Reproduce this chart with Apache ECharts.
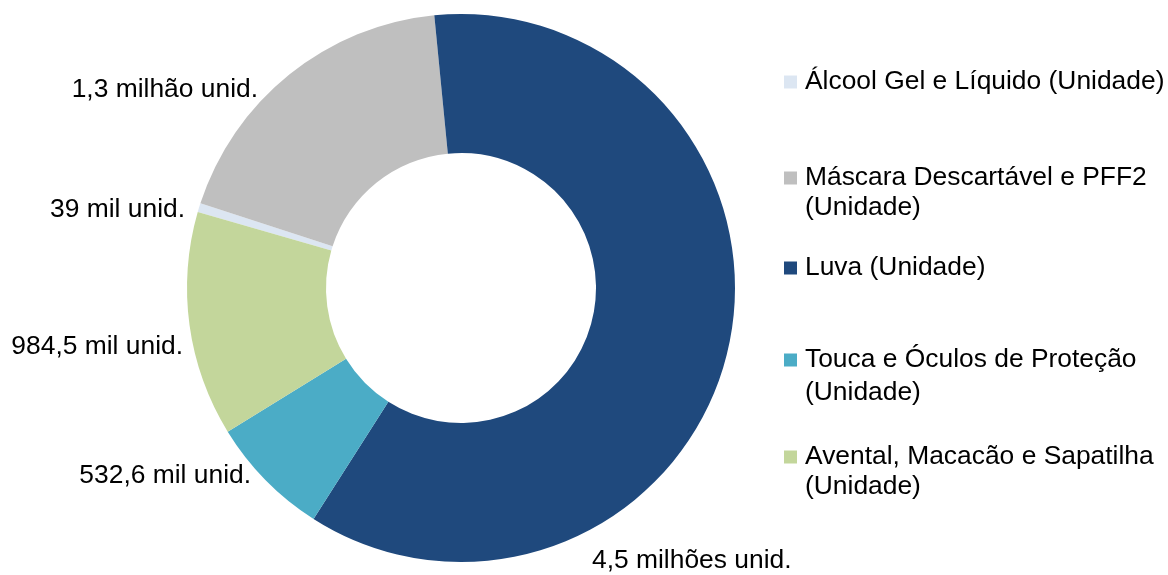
<!DOCTYPE html>
<html>
<head>
<meta charset="utf-8">
<script src="https://cdn.jsdelivr.net/npm/echarts@6/dist/echarts.min.js"></script>
<style>
html,body{margin:0;padding:0;background:#fff;}
#chart{width:1168px;height:575px;}
</style>
</head>
<body>
<div id="chart"></div>
<script>
const categories = [
  'Álcool Gel e Líquido (Unidade)',
  'Máscara Descartável e PFF2 (Unidade)',
  'Luva (Unidade)',
  'Touca e Óculos de Proteção (Unidade)',
  'Avental, Macacão e Sapatilha (Unidade)'
];
const legendTexts = [
  'Álcool Gel e Líquido (Unidade)',
  'Máscara Descartável e PFF2\n(Unidade)',
  'Luva (Unidade)',
  'Touca e Óculos de Proteção\n(Unidade)',
  'Avental, Macacão e Sapatilha\n(Unidade)'
];
const values = [39000, 1370000, 4500000, 532600, 984500];
const valueLabels = ['39 mil unid.', '1,3 milhão unid.', '4,5 milhões unid.', '532,6 mil unid.', '984,5 mil unid.'];
const colors = ['#DCE6F2', '#BFBFBF', '#1F497D', '#4BACC6', '#C3D69B'];

const FONT = "'Liberation Sans', Arial, sans-serif";
const FS = 26.4;
// label layout (x, y, align)
const labelPos = [
  [185, 210, 'right'],
  [258, 90, 'right'],
  [592, 561, 'left'],
  [251, 476, 'right'],
  [183, 347, 'right']
];
// legend first-line centre y and line height
const legendY = [82, 178, 268, 360, 457];
const legendLH = [30, 30, 30, 33, 30];

const chart = echarts.init(document.getElementById('chart'));
const legends = categories.map((c, i) => {
  const multi = legendTexts[i].indexOf('\n') >= 0;
  const lh = legendLH[i];
  return {
    data: [c],
    orient: 'vertical',
    left: 784,
    top: multi ? legendY[i] - 1.5 * lh : legendY[i] - lh / 2,
    padding: 0,
    itemWidth: 13,
    itemHeight: 13,
    icon: 'rect',
    selectedMode: false,
    formatter: () => (multi ? '\n' : '') + legendTexts[i],
    textStyle: { fontFamily: FONT, fontSize: FS, color: '#000', lineHeight: lh, padding: [0, 0, 0, 3] }
  };
});

chart.setOption({
  backgroundColor: '#fff',
  animation: false,
  color: colors,
  legend: legends,
  series: [{
    type: 'pie',
    center: [461, 288],
    radius: [135, 274],
    startAngle: 163.9,
    clockwise: true,
    avoidLabelOverlap: false,
    data: categories.map((c, i) => ({ name: c, value: values[i] })),
    label: {
      show: true,
      position: 'outside',
      formatter: p => valueLabels[p.dataIndex],
      fontFamily: FONT,
      fontSize: FS,
      color: '#000'
    },
    labelLine: { show: false },
    labelLayout: function (params) {
      const p = labelPos[params.dataIndex];
      return { x: p[0], y: p[1], align: p[2], verticalAlign: 'middle' };
    },
    emphasis: { disabled: true }
  }]
});
</script>
</body>
</html>
